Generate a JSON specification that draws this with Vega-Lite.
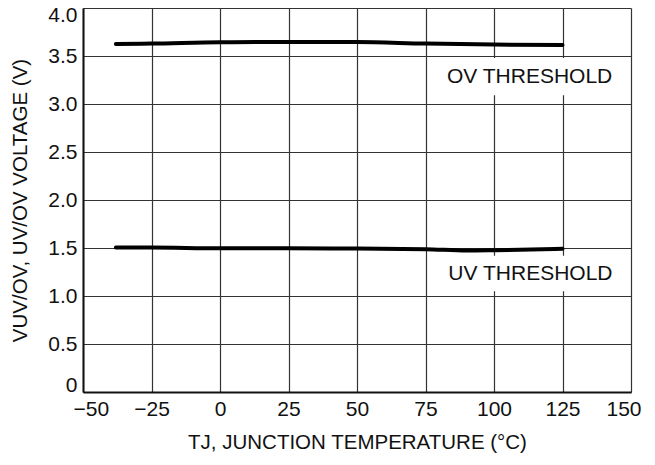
{
  "$schema": "https://vega.github.io/schema/vega-lite/v6.json",
  "autosize": "none",
  "width": 548,
  "height": 384,
  "padding": {"left": 83, "top": 8, "right": 24, "bottom": 73},
  "background": "white",
  "config": {
    "view": {"stroke": null},
    "font": "Liberation Sans",
    "axis": {
      "labelFont": "Liberation Sans",
      "titleFont": "Liberation Sans",
      "labelFontSize": 21,
      "titleFontSize": 20.5,
      "labelColor": "#111",
      "titleColor": "#111",
      "titleFontWeight": "normal",
      "ticks": false,
      "grid": true,
      "gridColor": "#333",
      "gridWidth": 1.2,
      "gridOpacity": 1,
      "domainColor": "#111",
      "domainWidth": 2
    }
  },
  "encoding": {
    "x": {
      "field": "t",
      "type": "quantitative",
      "scale": {"domain": [-50, 150], "nice": false, "zero": false},
      "axis": {
        "values": [-50, -25, 0, 25, 50, 75, 100, 125, 150],
        "title": "TJ, JUNCTION TEMPERATURE (°C)",
        "labelPadding": 6,
        "titlePadding": 13,
        "labelFlush": true,
        "labelFlushOffset": 10
      }
    },
    "y": {
      "field": "v",
      "type": "quantitative",
      "scale": {"domain": [0, 4], "nice": false, "zero": false},
      "axis": {
        "values": [0, 0.5, 1, 1.5, 2, 2.5, 3, 3.5, 4],
        "labelExpr": "datum.value === 0 ? '0' : format(datum.value, '.1f')",
        "title": "VUV/OV, UV/OV VOLTAGE (V)",
        "labelPadding": 6,
        "titlePadding": 17,
        "labelFlush": true,
        "labelFlushOffset": 3.5
      }
    }
  },
  "layer": [
    {
      "data": {"values": [
        {"t": 77, "t2": 148.5, "v": 3.09, "v2": 3.48},
        {"t": 77, "t2": 148.5, "v": 1.05, "v2": 1.42}
      ]},
      "mark": {"type": "rect", "fill": "white", "stroke": null},
      "encoding": {
        "x2": {"field": "t2"},
        "y2": {"field": "v2"}
      }
    },
    {
      "data": {"values": [
        {"series": "OV", "t": -38, "v": 3.625},
        {"series": "OV", "t": -25, "v": 3.629},
        {"series": "OV", "t": 0, "v": 3.643},
        {"series": "OV", "t": 25, "v": 3.646},
        {"series": "OV", "t": 50, "v": 3.646},
        {"series": "OV", "t": 75, "v": 3.629},
        {"series": "OV", "t": 100, "v": 3.619},
        {"series": "OV", "t": 125, "v": 3.615},
        {"series": "UV", "t": -38, "v": 1.504},
        {"series": "UV", "t": -25, "v": 1.504},
        {"series": "UV", "t": 0, "v": 1.497},
        {"series": "UV", "t": 25, "v": 1.497},
        {"series": "UV", "t": 50, "v": 1.494},
        {"series": "UV", "t": 75, "v": 1.488},
        {"series": "UV", "t": 90, "v": 1.474},
        {"series": "UV", "t": 100, "v": 1.477},
        {"series": "UV", "t": 125, "v": 1.492}
      ]},
      "mark": {"type": "line", "color": "black", "strokeWidth": 4, "interpolate": "monotone", "strokeCap": "round"},
      "encoding": {
        "detail": {"field": "series", "type": "nominal"}
      }
    },
    {
      "data": {"values": [
        {"label": "OV THRESHOLD", "t": 113, "v": 3.28},
        {"label": "UV THRESHOLD", "t": 113.3, "v": 1.233}
      ]},
      "mark": {"type": "text", "font": "Liberation Sans", "fontSize": 21, "color": "#111", "align": "center", "baseline": "middle"},
      "encoding": {
        "text": {"field": "label", "type": "nominal"}
      }
    }
  ]
}
